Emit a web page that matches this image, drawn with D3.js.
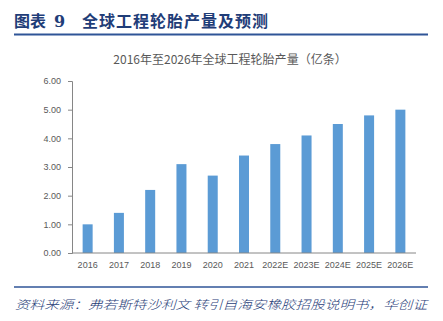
<!DOCTYPE html>
<html>
<head>
<meta charset="utf-8">
<script src="https://d3js.org/d3.v7.min.js"></script>
<style>
  body { margin: 0; background: #fff; }
  svg { display: block; }
</style>
</head>
<body>
<svg id="chart" width="443" height="321"></svg>
<script>
// 全球工程轮胎产量（亿条）
const years = ["2016", "2017", "2018", "2019", "2020", "2021", "2022E", "2023E", "2024E", "2025E", "2026E"];
const output = [1.0, 1.4, 2.2, 3.1, 2.7, 3.4, 3.8, 4.1, 4.5, 4.8, 5.0];
const yTicks = [0, 1, 2, 3, 4, 5, 6];

const svg = d3.select("#chart");
const cjk = "'Noto Sans CJK SC', 'Liberation Sans', sans-serif";
const navy = "#1f3d78";

// header: label, number and title placed separately to keep the gaps
const header = svg.append("text")
  .attr("y", 27)
  .attr("fill", navy)
  .style("font", "bold 16px " + cjk);
header.append("tspan").attr("x", 14).text("图表");
header.append("tspan").attr("x", 54).style("font-family", "'DejaVu Serif', serif").text("9");
header.append("tspan").attr("x", 82).attr("textLength", 186).text("全球工程轮胎产量及预测");

svg.append("line")
  .attr("x1", 14).attr("x2", 428).attr("y1", 34.5).attr("y2", 34.5)
  .attr("stroke", "#2f5597").attr("stroke-width", 2);

// plot area
const x = d3.scaleBand().domain(years).range([72, 416]).paddingInner(0.68).paddingOuter(0.34);
const y = d3.scaleLinear().domain([0, 6]).range([253, 81]);

svg.append("text")
  .attr("x", 230).attr("y", 64)
  .attr("text-anchor", "middle")
  .attr("fill", "#595959")
  .style("font", "12px " + cjk)
  .text("2016年至2026年全球工程轮胎产量（亿条）");

svg.append("g")
  .selectAll("rect")
  .data(output)
  .join("rect")
  .attr("x", (d, i) => x(years[i]))
  .attr("width", x.bandwidth())
  .attr("y", d => y(d))
  .attr("height", d => y(0) - y(d))
  .attr("fill", "#5b9bd5");

const yAxis = svg.append("g")
  .attr("transform", "translate(72,0)")
  .call(d3.axisLeft(y).tickValues(yTicks).tickFormat(d3.format(".2f")).tickSize(4).tickPadding(7));

const xAxis = svg.append("g")
  .attr("transform", "translate(0,253)")
  .call(d3.axisBottom(x).tickSize(0).tickPadding(9));

[yAxis, xAxis].forEach(g => {
  g.select(".domain").attr("stroke", "#868686");
  g.selectAll(".tick line").attr("stroke", "#868686");
  g.selectAll(".tick text")
    .attr("fill", "#595959")
    .style("font", "9px 'Liberation Sans', Arial, sans-serif");
});
xAxis.select(".domain").attr("d", "M72,0H416");

// footer
svg.append("line")
  .attr("x1", 14).attr("x2", 428).attr("y1", 287).attr("y2", 287)
  .attr("stroke", "#2f5597").attr("stroke-width", 1.5);
svg.append("text")
  .attr("x", 15).attr("y", 309)
  .attr("fill", navy)
  .style("font", "italic 300 12px " + cjk)
  .attr("textLength", 412)
  .attr("lengthAdjust", "spacingAndGlyphs")
  .text("资料来源：弗若斯特沙利文 转引自海安橡胶招股说明书，华创证");
</script>
</body>
</html>
